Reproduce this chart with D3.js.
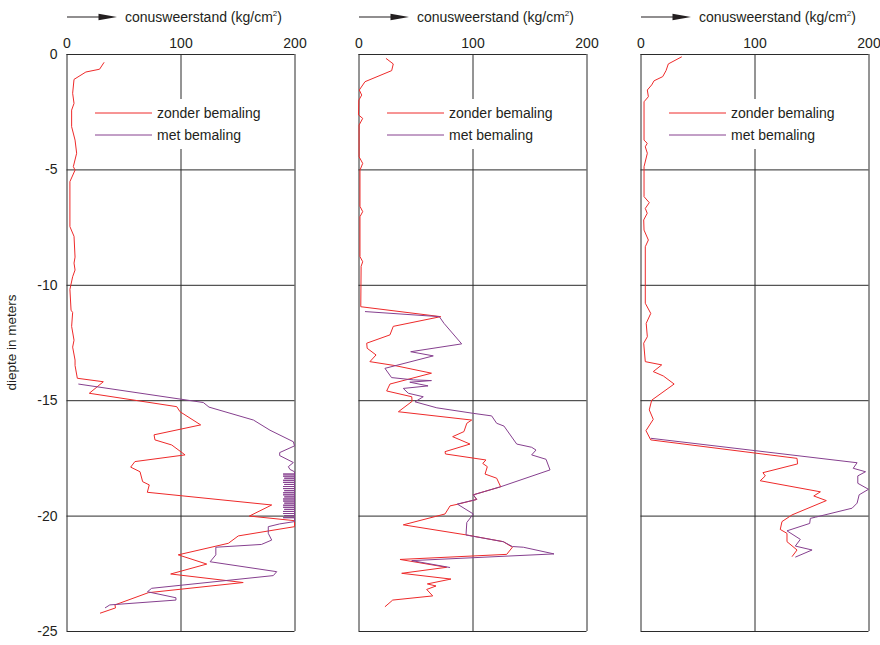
<!DOCTYPE html>
<html>
<head>
<meta charset="utf-8">
<script src="https://cdn.jsdelivr.net/npm/d3@7"></script>
<style>
body { margin: 0; background: #fff; }
svg { display: block; }
text { font-family: "Liberation Sans", Arial, Helvetica, sans-serif; fill: #231f20; }
</style>
</head>
<body>
<svg id="chart" width="880" height="645"></svg>
<script>
// sondering values: [depth (m), cone resistance (kg/cm2)]
const xTicks = [0, 100, 200];
const depthTicks = [0, -5, -10, -15, -20, -25];
const seriesNames = ["zonder bemaling", "met bemaling"];

const p1Zonder = [[-0.36,33],[-0.66,29],[-0.78,17],[-1.1,6.6],[-1.7,5.4],[-2.14,6.6],[-2.43,4.5],[-3.15,4.5],[-3.73,7.5],[-4.3,8.9],[-4.88,6],[-5.03,7.5],[-5.53,3],[-7.48,3],[-7.9,6.6],[-8.8,7.5],[-9.06,6.6],[-9.36,7.5],[-9.65,5.4],[-10.2,3],[-11.1,4],[-11.2,5.4],[-11.8,4.5],[-12.4,6.6],[-12.7,5.4],[-13.26,7.5],[-13.5,7.5],[-14.05,9.5],[-14.2,32.3],[-14.7,20],[-15.28,96.7],[-15.5,99.6],[-16.07,117.7],[-16.5,76.8],[-16.72,77.6],[-16.94,92.3],[-17.37,104],[-17.66,60],[-17.9,56.3],[-18.1,64.5],[-18.53,66.8],[-18.67,72.6],[-18.99,70.9],[-19.54,180],[-20.02,160.4],[-20.22,200],[-20.48,200],[-20.88,150.7],[-21.2,142],[-21.7,98],[-22.1,123],[-22.53,91.4],[-22.9,155],[-23.34,71.8],[-23.87,42.5],[-24.0,43],[-24.23,29.4]];
const p1MetTop = [[-14.3,10.4],[-15.1,120],[-15.3,125],[-15.86,164],[-16.3,178.5],[-16.8,199],[-16.98,200],[-17.27,187],[-17.4,187],[-17.7,199],[-17.88,194.6],[-18.0,196],[-18.1,200]];
const p1MetStripes = [[-18.2,190],[-18.29,190],[-18.38,191],[-18.47,190],[-18.56,190],[-18.65,191],[-18.74,190],[-18.83,190],[-18.92,191],[-19.01,190],[-19.1,190],[-19.19,191],[-19.28,190],[-19.37,190],[-19.46,191],[-19.55,190],[-19.64,190],[-19.73,191],[-19.82,190],[-19.91,190],[-20.0,191],[-20.09,190]];
const p1MetBottom = [[-20.26,200],[-20.36,187],[-20.48,177],[-20.77,177],[-21.06,180],[-21.25,171],[-21.37,131],[-21.7,131],[-22.0,126],[-22.43,184.4],[-22.6,181.4],[-23.15,74.7],[-23.3,71],[-23.56,96],[-23.66,96],[-23.87,38],[-24.0,33.8]];

const p2Zonder = [[-0.19,24.1],[-0.43,30.5],[-0.72,29.1],[-1.2,5.7],[-1.56,0.7],[-1.78,2.8],[-2.0,0.3],[-2.64,0],[-2.79,3.7],[-3.08,0.5],[-4.45,0.5],[-4.74,3.7],[-5.03,1.3],[-6.6,1.3],[-6.83,3.7],[-7.05,1.3],[-8.78,1.3],[-9.0,3.7],[-9.2,2.3],[-10.95,2],[-11.38,72.1],[-11.8,30.5],[-12.17,27.6],[-12.53,7.2],[-12.75,7.6],[-13.04,15.4],[-13.33,10],[-13.5,32],[-13.83,64],[-14.3,27.6],[-14.6,24.7],[-14.85,46.7],[-15.05,47],[-15.5,35],[-15.86,99.3],[-16.0,95],[-16.36,92.5],[-16.58,82.6],[-16.9,97.8],[-17.23,75.9],[-17.33,76.3],[-17.59,111.8],[-17.74,109],[-17.88,113],[-18.2,111],[-18.38,121.2],[-18.75,124.7],[-19.1,100.7],[-19.3,103.7],[-19.51,86.7],[-19.58,80.3],[-19.93,75.9],[-20.4,39.3],[-20.84,95],[-21.13,127],[-21.37,135],[-21.68,130],[-21.9,36.4],[-22.24,77.3],[-22.5,37.9],[-22.75,81.1],[-22.96,60.4],[-23.05,68],[-23.2,59.8],[-23.48,65.1],[-23.66,30],[-23.95,23.2]];
const p2Met = [[-11.16,5.7],[-11.38,70.9],[-11.67,75],[-12.56,90.5],[-12.9,45.8],[-13.08,65.6],[-13.62,23.2],[-14.02,29],[-14.12,48.1],[-14.15,64],[-14.22,45],[-14.38,61],[-14.49,39.3],[-14.7,43.7],[-14.85,56.8],[-15.07,49.6],[-15.33,68.7],[-15.57,100.7],[-15.68,116.8],[-16.0,121.2],[-16.12,127.6],[-16.9,138.8],[-17.04,151.9],[-17.16,155.7],[-17.37,151.9],[-17.56,164.5],[-18.02,168],[-18.75,124.7],[-19.1,100.7],[-19.3,103.7],[-19.5,86.7],[-19.93,100.7],[-20.3,95],[-20.84,94.3],[-21.13,127],[-21.34,135],[-21.37,144.6],[-21.66,171.5],[-21.95,46.7],[-22.25,80.3]];

const p3Zonder = [[-0.12,36.2],[-0.43,24.4],[-0.72,22.4],[-0.98,19.5],[-1.16,11.9],[-1.34,9.8],[-1.56,6],[-1.85,6.9],[-2.07,3.1],[-3.73,3.1],[-3.87,5.9],[-4.02,4.2],[-4.3,6],[-4.88,3.1],[-6.18,3.1],[-6.44,7.7],[-6.69,4.2],[-6.9,5.9],[-7.19,2.8],[-7.63,3.1],[-8.06,6.9],[-8.35,4.2],[-10.8,4.2],[-11.24,9],[-11.67,5],[-12.25,6],[-12.53,2.8],[-13.33,4.2],[-13.47,18.6],[-13.76,11.2],[-13.95,20],[-14.3,29.5],[-15.0,9.8],[-15.42,7.7],[-15.83,11.2],[-16.32,4.8],[-16.72,9],[-17.52,137.3],[-17.76,137.8],[-18.14,107.4],[-18.28,109.5],[-18.49,105],[-18.97,157.8],[-19.15,152],[-19.35,163],[-19.97,132.9],[-20.26,124.1],[-20.6,122.6],[-20.77,128.5],[-21.13,128.5],[-21.49,137.3],[-21.78,132.9]];
const p3Met = [[-16.65,9],[-17.71,190],[-17.95,186.6],[-18.1,197.4],[-18.28,190.6],[-18.6,190.6],[-18.86,200],[-19.1,191.8],[-19.46,190],[-19.68,185.6],[-20.07,153.4],[-20.12,149],[-20.34,148.4],[-20.66,128.5],[-21.03,140.2],[-21.32,135.8],[-21.49,150.5],[-21.8,135.8]];

// each stripe: out to the left value and back to 200 at the same depth
const p1Met = p1MetTop
  .concat(p1MetStripes.flatMap(d => [[d[0], 200], d, [d[0], 200]]))
  .concat(p1MetBottom);

const colors = ["#ee2a2a", "#86408f"];
const svg = d3.select("#chart");
const plotTop = 54, plotBottom = 631, panelW = 228;

const y = d3.scaleLinear().domain([0, -25]).range([plotTop, plotBottom]);

function plotPanel(left, zonder, met, showDepth) {
  const x = d3.scaleLinear().domain([0, 200]).range([left, left + panelW]);
  const g = svg.append("g");

  // vertical grid + tick labels on top
  g.append("g")
    .attr("transform", "translate(0," + plotTop + ")")
    .call(d3.axisTop(x).tickValues(xTicks).tickSize(-(plotBottom - plotTop)).tickPadding(6).tickFormat(d => d))
    .call(a => a.select(".domain").remove())
    .call(a => a.selectAll("line").attr("stroke", "#2b2b2b"))
    .call(a => a.selectAll("text").attr("font-size", 14).attr("fill", "#231f20"));

  // horizontal grid
  const yAxis = g.append("g")
    .attr("transform", "translate(" + left + ",0)")
    .call(d3.axisLeft(y).tickValues(depthTicks).tickSize(-panelW).tickPadding(9).tickFormat(d => String(d)))
    .call(a => a.select(".domain").remove())
    .call(a => a.selectAll("line").attr("stroke", "#2b2b2b"))
    .call(a => a.selectAll("text").attr("font-size", 14).attr("fill", "#231f20"));
  if (!showDepth) yAxis.selectAll("text").remove();
  g.selectAll(".tick text").attr("font-family", null);
  svg.attr("font-family", null);

  // header with arrow
  g.append("line")
    .attr("x1", left + 0.5).attr("x2", left + 36)
    .attr("y1", 17).attr("y2", 17)
    .attr("stroke", "#231f20").attr("stroke-width", 1.2);
  g.append("path")
    .attr("d", "M" + (left + 32) + ",13.8L" + (left + 50.5) + ",17L" + (left + 32) + ",20.2Z")
    .attr("fill", "#231f20");
  const head = g.append("text")
    .attr("x", left + 58.5).attr("y", 22)
    .attr("font-size", 14)
    .text("conusweerstand (kg/cm");
  head.append("tspan").attr("font-size", 8).attr("dy", -6).text("2");
  head.append("tspan").attr("dy", 6).text(")");

  // legend (white box hides the grid line behind it)
  g.append("rect")
    .attr("x", left + 22).attr("y", 99)
    .attr("width", 185).attr("height", 50)
    .attr("fill", "#fff");
  const legend = g.selectAll(".legend")
    .data(seriesNames)
    .enter().append("g")
    .attr("transform", (d, i) => "translate(" + left + "," + (113 + i * 22) + ")");
  legend.append("line")
    .attr("x1", 28.5).attr("x2", 85.5)
    .attr("stroke", (d, i) => colors[i]).attr("stroke-width", 1);
  legend.append("text")
    .attr("x", 90.5).attr("dy", "0.35em")
    .attr("font-size", 14)
    .text(d => d);

  const line = d3.line()
    .x(d => x(d[1]))
    .y(d => y(d[0]));

  g.selectAll(".series")
    .data([zonder, met])
    .enter().append("path")
    .attr("d", line)
    .attr("fill", "none")
    .attr("stroke", (d, i) => colors[i])
    .attr("stroke-width", 1)
    .attr("stroke-linejoin", "round");
}

plotPanel(66.5, p1Zonder, p1Met, true);
plotPanel(358.5, p2Zonder, p2Met, false);
plotPanel(640.5, p3Zonder, p3Met, false);

// depth axis title
svg.append("text")
  .attr("transform", "translate(16," + ((plotTop + plotBottom) / 2) + ") rotate(-90)")
  .attr("text-anchor", "middle")
  .attr("font-size", 13.5)
  .text("diepte in meters");
</script>
</body>
</html>
